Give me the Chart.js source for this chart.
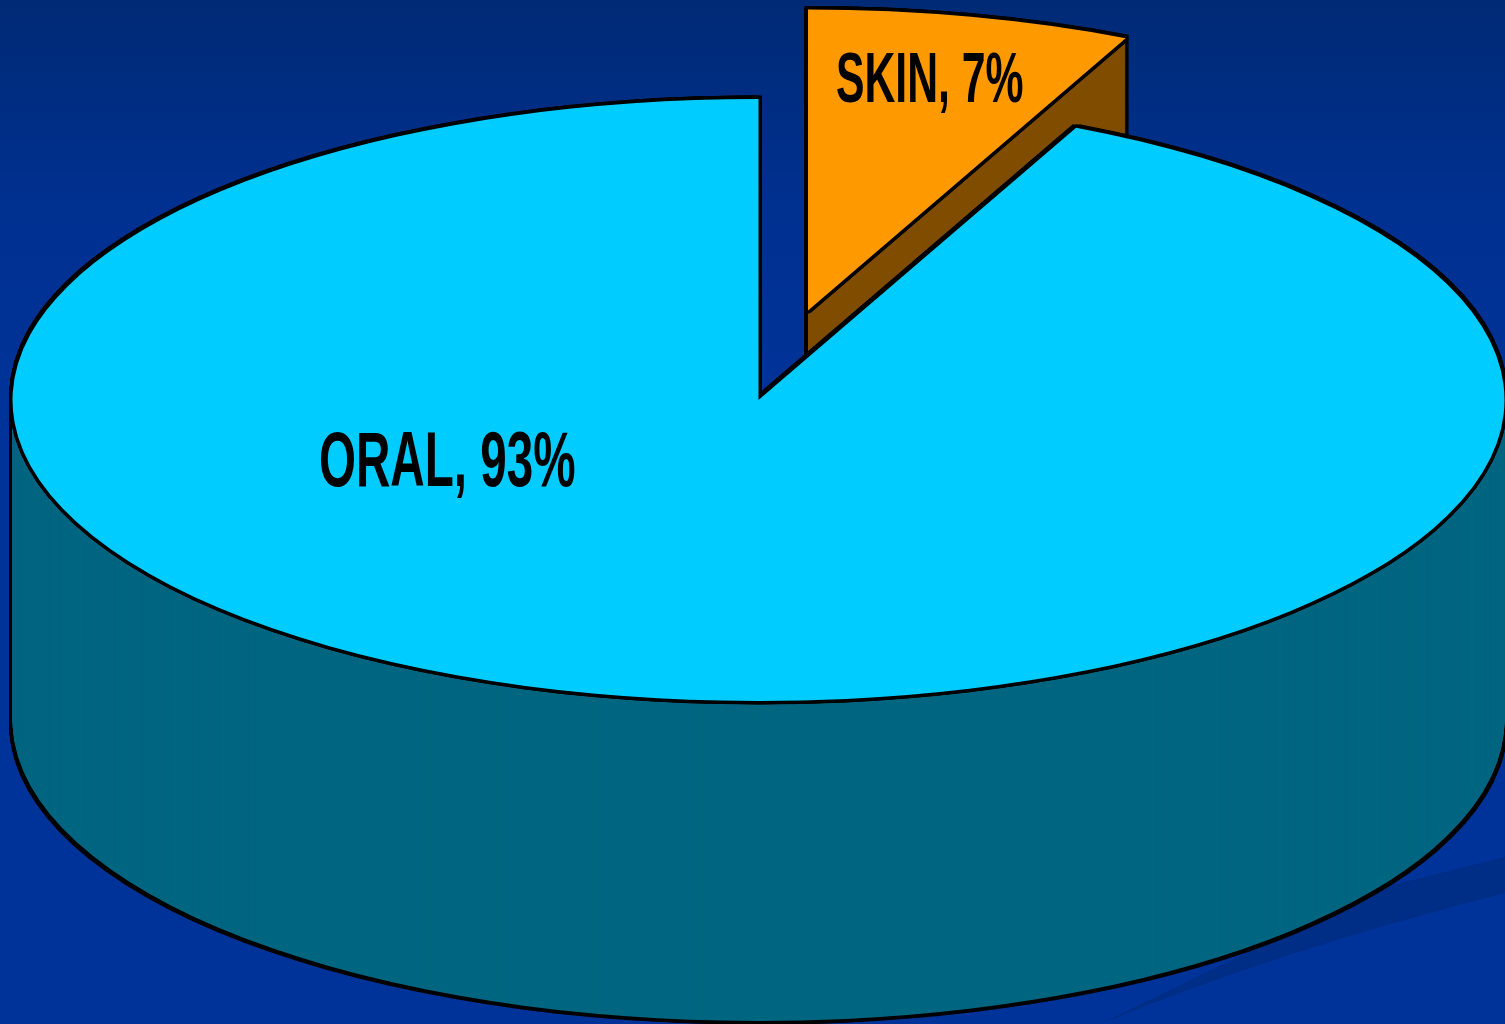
<!DOCTYPE html>
<html>
<head>
<meta charset="utf-8">
<title>Route of exposure</title>
<style>
  html, body { margin: 0; padding: 0; background: #003399; overflow: hidden; }
  canvas { display: block; }
</style>
<script src="https://cdn.jsdelivr.net/npm/chart.js@4/dist/chart.umd.min.js"></script>
</head>
<body>
<canvas id="pie" width="1505" height="1024"></canvas>
<script>
const categories = ['SKIN', 'ORAL'];
const shares = [7, 93];
const topColors = ['#FF9900', '#00CCFF'];
const wallColors = ['#804D00', '#006680'];
const pullOut = [227, 0];  // how far each slice is pulled from the centre, in disc units

const TILT = 0.4035;       // vertical squash of the pie disc
const DEPTH = 320;         // height of the extruded wall, px
const CENTER = { x: 758.5, y: 400 };
const LINE = 3.5;          // outline thickness, px
const labelSpots = [
  { x: 836, y: 102, size: 70 },
  { x: 319, y: 486, size: 78 }
];

// Draws the pie as a tilted, extruded disc, reusing the arcs laid out by Chart.js.
const tiltedPie = {
  id: 'tiltedPie',
  beforeDraw(chart) {
    const { ctx, width, height } = chart;
    const g = ctx.createLinearGradient(0, 0, 0, height);
    g.addColorStop(0, '#002A75');
    g.addColorStop(0.2, '#003090');
    g.addColorStop(0.4, '#003399');
    g.addColorStop(1, '#003399');
    ctx.save();
    ctx.fillStyle = g;
    ctx.fillRect(0, 0, width, height);
    // Soft darker streak running to the right edge
    ctx.fillStyle = '#002D85';
    ctx.beginPath();
    ctx.moveTo(1505, 857);
    ctx.lineTo(1380, 888);
    ctx.lineTo(1100, 1024);
    ctx.quadraticCurveTo(1280, 950, 1505, 893);
    ctx.closePath();
    ctx.fill();
    ctx.restore();
  },
  beforeDatasetsDraw(chart) {
    const { ctx } = chart;
    const arcs = chart.getDatasetMeta(0).data;

    const stamp = (arc, i, color, dx, dy) => {
      const ghost = Object.create(arc);
      ghost.options = Object.assign({}, arc.options, { backgroundColor: color, borderWidth: 0 });
      const mid = (arc.startAngle + arc.endAngle) / 2;
      ctx.save();
      ctx.translate(CENTER.x + dx, CENTER.y + dy);
      ctx.scale(1, TILT);
      ctx.translate(Math.cos(mid) * pullOut[i] - arc.x, Math.sin(mid) * pullOut[i] - arc.y);
      ghost.draw(ctx);
      ctx.restore();
    };

    arcs.forEach((arc, i) => {
      // Black silhouette of the whole extruded body
      for (let d = -LINE; d <= DEPTH + LINE; d++) {
        stamp(arc, i, '#000', -LINE, d);
        stamp(arc, i, '#000', LINE, d);
      }
      // Wall colour
      for (let d = DEPTH; d >= 1; d--) {
        stamp(arc, i, wallColors[i], 0, d);
      }
      // Outline of the top face, then the face itself
      for (let a = 0; a < 16; a++) {
        const t = a / 16 * Math.PI * 2;
        stamp(arc, i, '#000', Math.cos(t) * LINE, Math.sin(t) * LINE);
      }
      stamp(arc, i, topColors[i], 0, 0);
    });

    // Labels, set in a condensed heavy face
    categories.forEach((name, i) => {
      const spot = labelSpots[i];
      ctx.save();
      ctx.translate(spot.x, spot.y);
      ctx.scale(0.61, 1);
      ctx.font = `bold ${spot.size}px "Liberation Sans", Arial, sans-serif`;
      ctx.fillStyle = '#000';
      ctx.textBaseline = 'alphabetic';
      ctx.fillText(`${name}, ${shares[i]}%`, 0, 0);
      ctx.restore();
    });
    return false;
  }
};

new Chart(document.getElementById('pie'), {
  type: 'pie',
  data: {
    labels: categories,
    datasets: [{
      data: shares,
      backgroundColor: topColors,
      borderWidth: 0
    }]
  },
  options: {
    responsive: false,
    animation: false,
    radius: 746,
    rotation: 0,
    events: [],
    plugins: { legend: { display: false }, tooltip: { enabled: false }, title: { display: false } }
  },
  plugins: [tiltedPie]
});
</script>
</body>
</html>
